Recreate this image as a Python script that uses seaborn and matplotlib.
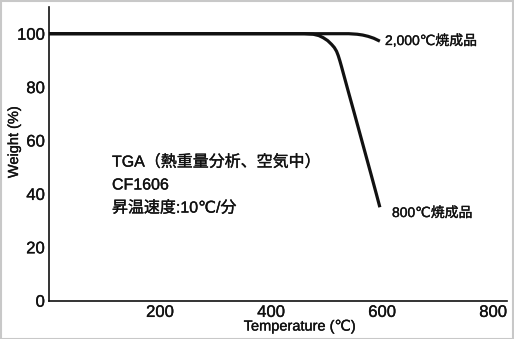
import matplotlib
matplotlib.use("Agg")
import matplotlib.pyplot as plt
import matplotlib.patheffects as pe
import seaborn as sns
import pandas as pd
from matplotlib.patches import Rectangle

# data
temp_800 = [0, 300, 460, 476, 486, 494, 502, 509, 514, 518, 521, 524, 527,
            530, 535, 540, 550, 560, 570, 580, 590, 596]
weight_800 = [100, 100, 100, 99.8, 99.3, 98.5, 97.4, 96.0, 94.8, 93.4, 91.8,
              89.8, 87.6, 85.3, 81.5, 77.7, 70.2, 62.6, 55.0, 47.4, 39.7,
              35.0]
temp_2000 = [0, 300, 500, 540, 555, 565, 575, 585, 596]
weight_2000 = [100, 100, 100, 100, 99.8, 99.5, 99.0, 98.3, 97.2]
series_labels = ["800℃焼成品", "2,000℃焼成品"]
x_ticks = [200, 400, 600, 800]
y_ticks = [0, 20, 40, 60, 80, 100]
info_lines = ["TGA（熱重量分析、空気中）", "CF1606", "昇温速度:10℃/分"]

df = pd.concat([
    pd.DataFrame({"T": temp_800, "W": weight_800, "s": series_labels[0]}),
    pd.DataFrame({"T": temp_2000, "W": weight_2000, "s": series_labels[1]}),
])

sns.set_theme(style="white")
plt.rcParams["font.family"] = ["Liberation Sans", "DejaVu Sans", "Noto Sans CJK JP"]

TXT = "#111111"
bold_fx = [pe.withStroke(linewidth=0.25, foreground=TXT)]

W, H = 514, 339
fig = plt.figure(figsize=(W / 100, H / 100), dpi=100)
ax = fig.add_axes([49 / W, 1 - 300.7 / H, 458 / W, (300.7 - 7) / H])

sns.lineplot(data=df, x="T", y="W", units="s", estimator=None, sort=False,
             color=TXT, lw=2.3, ax=ax, legend=False)
for ln in ax.lines:
    ln.set_solid_joinstyle("round")
    ln.set_solid_capstyle("butt")

ax.set_xlim(0, 825)
ax.set_ylim(0, 110)
ax.set_xticks(x_ticks)
ax.set_yticks(y_ticks)
ax.set_xlabel("")
ax.set_ylabel("")
for sp in ["top", "right"]:
    ax.spines[sp].set_visible(False)
for sp in ["left", "bottom"]:
    ax.spines[sp].set_color(TXT)
    ax.spines[sp].set_linewidth(1.2)
ax.tick_params(direction="in", length=5, width=1, color="#888888",
               labelsize=12, labelcolor=TXT, pad=3)
ax.tick_params(axis="x", pad=3)
for lab in ax.get_xticklabels() + ax.get_yticklabels():
    lab.set_path_effects(bold_fx)

for i, line in enumerate(info_lines):
    fig.text(112 / W, 1 - (162 + 23 * i) / H, line, fontsize=11.5,
             ha="left", va="center", color=TXT, path_effects=bold_fx)

fig.text(385 / W, 1 - 41 / H, series_labels[1], fontsize=10, ha="left",
         va="center", color=TXT, path_effects=bold_fx)
fig.text(392 / W, 1 - 213 / H, series_labels[0], fontsize=10, ha="left",
         va="center", color=TXT, path_effects=bold_fx)

fig.text(300 / W, 1 - 326.5 / H, "Temperature (℃)", fontsize=10.5,
         ha="center", va="center", color=TXT, path_effects=bold_fx)
fig.text(14 / W, 1 - 142 / H, "Weight (%)", fontsize=10.5, rotation=90,
         ha="center", va="center", color=TXT, path_effects=bold_fx)

fig.patches.append(Rectangle((0.5 / W, 0.5 / H), 1 - 1.5 / W, 1 - 1.5 / H,
                             transform=fig.transFigure, fill=False,
                             edgecolor="#c8c8c8", lw=1.5))

fig.savefig("out.png", dpi=100)
